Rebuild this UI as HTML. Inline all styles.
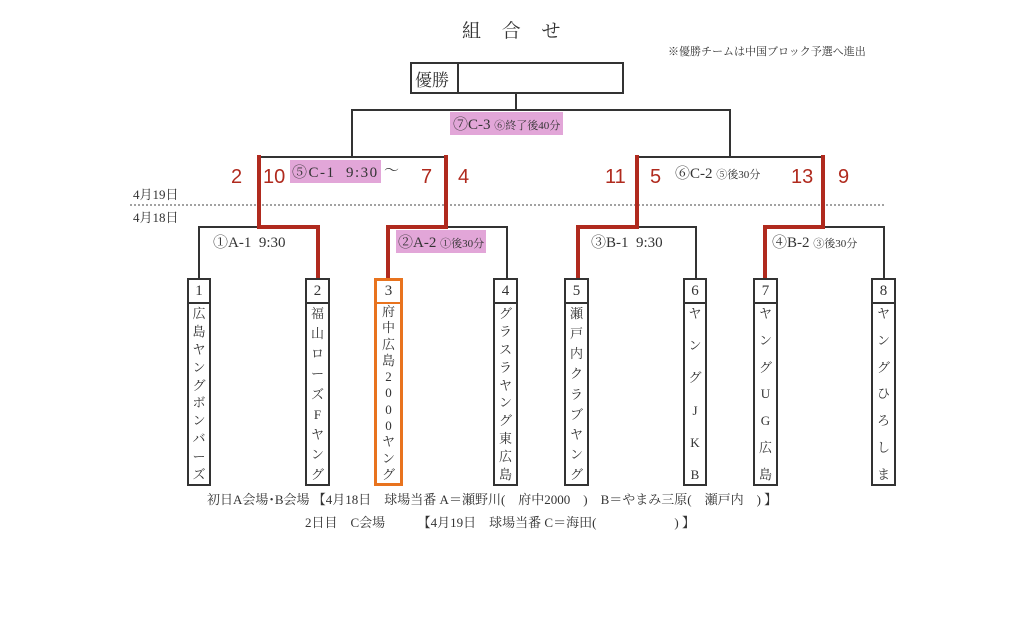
<!DOCTYPE html>
<html><head><meta charset="utf-8"><style>
body{margin:0;width:1024px;height:625px;background:#fff;position:relative;overflow:hidden;font-family:"Liberation Serif","Noto Serif CJK SC","Noto Sans CJK JP",serif;color:#333}
.a{position:absolute;white-space:nowrap}
.pk{background:#e2a6d8}
.box{position:absolute;top:278px;height:208px;border:2px solid #333;box-sizing:border-box;background:#fff}
.box .n{height:22px;border-bottom:2px solid #333;text-align:center;font-size:15px;line-height:22px}
.box .c{position:absolute;top:24px;bottom:0;left:0;right:0;display:flex;flex-direction:column;justify-content:space-between;align-items:center;font-size:13px;line-height:15px;padding:2px 0;box-sizing:border-box}
.r{color:#b02a1e;font-family:"Liberation Sans",sans-serif;font-size:20px}
</style></head><body>
<svg class="a" style="left:0;top:0" width="1024" height="625">
<g stroke="#333" stroke-width="2" fill="none">
<rect x="411" y="63" width="212" height="30"/>
<line x1="458" y1="63" x2="458" y2="93"/>
<polyline points="516,93 516,110"/>
<polyline points="352,157 352,110 730,110 730,157"/>
<polyline points="259,157 446,157"/>
<polyline points="637,157 823,157"/>
<polyline points="199,278 199,227 318,227"/>
<polyline points="446,227 507,227 507,278"/>
<polyline points="637,227 696,227 696,278"/>
<polyline points="823,227 884,227 884,278"/>
</g>
<line x1="130" y1="205" x2="885" y2="205" stroke="#444" stroke-width="1" stroke-dasharray="2,2"/>
<g stroke="#b02a1e" stroke-width="4" fill="none">
<polyline points="318,278 318,227 259,227 259,155"/>
<polyline points="388,278 388,227 446,227 446,155"/>
<polyline points="578,278 578,227 637,227 637,155"/>
<polyline points="765,278 765,227 823,227 823,155"/>
</g>
</svg>
<div class="a" style="left:462px;top:16px;font-size:19px;letter-spacing:8px">組 合 せ</div>
<div class="a" style="left:668px;top:43px;font-size:11px">※優勝チームは中国ブロック予選へ進出</div>
<div class="a" style="left:415px;top:66px;font-size:17px">優勝</div>
<div class="a pk" style="left:450px;top:112px;font-size:15px;padding:1px 3px">⑦C-3 <span style="font-size:11px">⑥終了後40分</span></div>
<div class="a" style="left:133px;top:184px;font-size:13px">4月19日</div>
<div class="a" style="left:133px;top:207px;font-size:13px">4月18日</div>
<div class="a r" style="left:231px;top:166px">2</div>
<div class="a r" style="left:263px;top:166px">10</div>
<div class="a pk" style="left:290px;top:160px;font-size:15px;padding:1px 2px;letter-spacing:1.5px">⑤C-1 &nbsp;9:30</div>
<div class="a" style="left:384px;top:159px;font-size:15px">～</div>
<div class="a r" style="left:421px;top:166px">7</div>
<div class="a r" style="left:458px;top:166px">4</div>
<div class="a r" style="left:605px;top:166px">11</div>
<div class="a r" style="left:650px;top:166px">5</div>
<div class="a" style="left:675px;top:162px;font-size:15px">⑥C-2 <span style="font-size:11px">⑤後30分</span></div>
<div class="a r" style="left:791px;top:166px">13</div>
<div class="a r" style="left:838px;top:166px">9</div>
<div class="a" style="left:213px;top:231px;font-size:15px">①A-1 &nbsp;9:30</div>
<div class="a pk" style="left:396px;top:230px;font-size:15px;padding:1px 2px">②A-2 <span style="font-size:11px">①後30分</span></div>
<div class="a" style="left:591px;top:231px;font-size:15px">③B-1 &nbsp;9:30</div>
<div class="a" style="left:772px;top:231px;font-size:15px">④B-2 <span style="font-size:11px">③後30分</span></div>

<div class="box" style="left:187px;width:24px"><div class="n">1</div><div class="c"><span>広</span><span>島</span><span>ヤ</span><span>ン</span><span>グ</span><span>ボ</span><span>ン</span><span>バ</span><span>ー</span><span>ズ</span></div></div>
<div class="box" style="left:305px;width:25px"><div class="n">2</div><div class="c"><span>福</span><span>山</span><span>ロ</span><span>ー</span><span>ズ</span><span>F</span><span>ヤ</span><span>ン</span><span>グ</span></div></div>
<div class="box" style="left:374px;width:29px;border:3px solid #e8731e"><div class="n" style="border-bottom-color:#e8731e;height:21px;line-height:21px">3</div><div class="c" style="top:23px;line-height:14px;padding:1px 0"><span>府</span><span>中</span><span>広</span><span>島</span><span>2</span><span>0</span><span>0</span><span>0</span><span>ヤ</span><span>ン</span><span>グ</span></div></div>
<div class="box" style="left:493px;width:25px"><div class="n">4</div><div class="c"><span>グ</span><span>ラ</span><span>ス</span><span>ラ</span><span>ヤ</span><span>ン</span><span>グ</span><span>東</span><span>広</span><span>島</span></div></div>
<div class="box" style="left:564px;width:25px"><div class="n">5</div><div class="c"><span>瀬</span><span>戸</span><span>内</span><span>ク</span><span>ラ</span><span>ブ</span><span>ヤ</span><span>ン</span><span>グ</span></div></div>
<div class="box" style="left:683px;width:24px"><div class="n">6</div><div class="c"><span>ヤ</span><span>ン</span><span>グ</span><span>J</span><span>K</span><span>B</span></div></div>
<div class="box" style="left:753px;width:25px"><div class="n">7</div><div class="c"><span>ヤ</span><span>ン</span><span>グ</span><span>U</span><span>G</span><span>広</span><span>島</span></div></div>
<div class="box" style="left:871px;width:25px"><div class="n">8</div><div class="c"><span>ヤ</span><span>ン</span><span>グ</span><span>ひ</span><span>ろ</span><span>し</span><span>ま</span></div></div>

<div class="a" style="left:207px;top:489px;font-size:13px">初日A会場･B会場 【4月18日　球場当番 A＝瀬野川(　府中2000　)　B＝やまみ三原(　瀬戸内　) 】</div>
<div class="a" style="left:305px;top:512px;font-size:13px">2日目　C会場　　　【4月19日　球場当番 C＝海田(　　　　　　) 】</div>
</body></html>
